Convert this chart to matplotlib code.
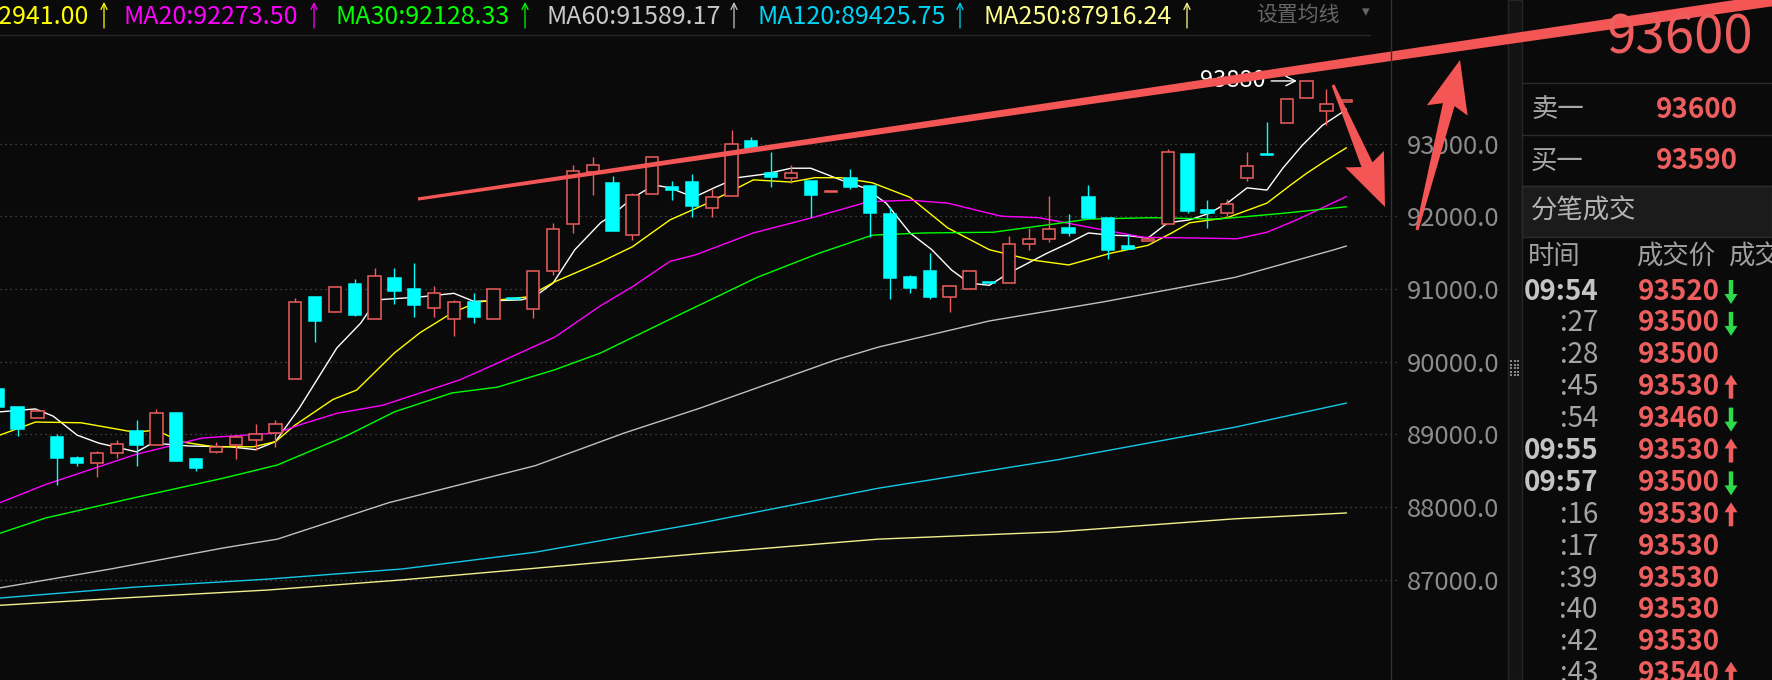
""" Candlestick chart with moving averages and a tick list panel, dark trading-app style. """

import numpy as np
import matplotlib
matplotlib.use("Agg")
import matplotlib.pyplot as plt
from matplotlib.patches import Rectangle, Polygon, FancyArrow

plt.rcParams['font.family'] = ['Noto Sans CJK SC', 'DejaVu Sans']

# Candles (index 0 is the leftmost, partly cut one)
opens = [89620, 89380, 89230, 88960, 88680, 88610, 88740, 89050, 88850, 89290,
         88660, 88760, 88850, 88930, 89020, 89760, 90890, 90680, 91070, 90590,
         91150, 91000, 90740, 90590, 90820, 90590, 90870, 90720, 91250, 91890,
         92610, 92460, 91740, 92310, 92400, 92470, 92110, 92280, 93030, 92590,
         92530, 92480, 92340, 92530, 92420, 92030, 91160, 91250, 90890, 91000,
         91090, 91080, 91620, 91690, 91840, 92260, 91980, 91590, 91660, 91890,
         92860, 92090, 92040, 92530, 92850, 93280, 93630, 93450, 93570]
highs = [89620, 89380, 89350, 89010, 88700, 88770, 88920, 89200, 89350, 89290,
         88680, 88900, 88990, 89150, 89200, 90880, 90890, 91030, 91140, 91290,
         91290, 91360, 91040, 90850, 90940, 91000, 90870, 91250, 91910, 92700,
         92810, 92550, 92320, 92810, 92480, 92580, 92370, 93190, 93090, 92880,
         92700, 92480, 92350, 92650, 92420, 92130, 91190, 91490, 91040, 91250,
         91090, 91730, 91840, 92280, 92030, 92430, 91980, 91760, 91690, 92920,
         92860, 92220, 92240, 92880, 93300, 93610, 93860, 93750, 93600]
lows = [89380, 88980, 89230, 88300, 88570, 88410, 88680, 88570, 88850, 88630,
        88500, 88740, 88660, 88790, 88830, 89760, 90270, 90680, 90630, 90590,
        90790, 90610, 90610, 90350, 90530, 90590, 90860, 90600, 91190, 91770,
        92290, 91800, 91670, 92310, 92220, 91990, 91990, 92280, 92940, 92400,
        92460, 91990, 92340, 92370, 91710, 90860, 90940, 90860, 90680, 91000,
        91080, 91080, 91540, 91650, 91730, 91980, 91410, 91550, 91660, 91890,
        92040, 91840, 91980, 92480, 92840, 93280, 93630, 93250, 93570]
closes = [89380, 89070, 89320, 88680, 88610, 88740, 88870, 88850, 89290, 88630,
          88540, 88830, 88960, 89010, 89140, 90820, 90560, 91030, 90640, 91180,
          90970, 90780, 90940, 90820, 90610, 91000, 90860, 91250, 91820, 92620,
          92700, 91800, 92290, 92810, 92360, 92140, 92260, 92990, 92940, 92540,
          92590, 92290, 92350, 92400, 92040, 91150, 91010, 90890, 91040, 91250,
          91080, 91620, 91690, 91820, 91770, 91980, 91540, 91550, 91690, 92880,
          92070, 92040, 92170, 92690, 92840, 93610, 93860, 93540, 93600]

# Moving averages as (candle index, value)
ma5_x = [0.1, 1.9, 2.8, 4.0, 5.1, 7.0, 7.8, 9.7, 11.7, 13.0, 14.0, 15.2, 17.1, 18.3,
         19.1, 21.3, 23.0, 24.0, 26.4, 27.1, 28.0, 29.1, 30.4, 31.0, 32.0, 33.1,
         33.9, 35.1, 36.2, 37.3, 38.7, 40.0, 41.0, 42.5, 43.7, 44.8, 46.0, 47.1,
         48.1, 49.0, 50.0, 51.0, 52.9, 54.0, 55.0, 56.1, 57.1, 58.0, 59.0, 60.1,
         61.1, 62.1, 63.0, 64.0, 64.8, 65.8, 66.8, 67.8, 68.0]
ma5_y = [89310, 89350, 89250, 88990, 88880, 88760, 88880, 88840, 88830, 88790,
         88900, 89360, 90190, 90530, 90850, 90890, 90940, 90830, 90850, 90900,
         91080, 91540, 91910, 92020, 92250, 92430, 92390, 92260, 92400, 92530,
         92580, 92660, 92660, 92500, 92390, 92180, 91770, 91540, 91260, 91080,
         91050, 91220, 91490, 91630, 91770, 91740, 91730, 91700, 91910, 91950,
         92040, 92200, 92390, 92360, 92660, 92980, 93250, 93430, 93470]

ma10_x = [0.1, 1.9, 4.2, 6.9, 8.0, 9.2, 10.9, 12.9, 14.0, 15.0, 16.9, 18.1, 20.0,
          21.3, 22.9, 24.2, 26.7, 28.1, 30.4, 32.0, 33.9, 35.8, 38.1, 40.0, 41.2,
          42.5, 44.1, 46.0, 47.9, 50.0, 52.1, 54.0, 56.1, 58.0, 59.2, 60.1, 62.0,
          64.0, 65.2, 66.0, 67.0, 68.0]
ma10_y = [88990, 89170, 89160, 89030, 89060, 88900, 88830, 88830, 88900, 89130,
          89480, 89610, 90120, 90400, 90670, 90820, 90890, 91100, 91370, 91580,
          91950, 92180, 92500, 92470, 92530, 92530, 92460, 92260, 91840, 91540,
          91400, 91330, 91490, 91600, 91770, 91910, 91980, 92180, 92430, 92590,
          92770, 92940]

ma20_x = [0.1, 2.4, 6.9, 10.3, 14.1, 15.2, 17.1, 19.4, 21.3, 23.3, 25.2, 28.1, 30.4,
          32.0, 33.9, 35.2, 38.1, 41.2, 43.9, 46.0, 47.9, 50.6, 52.5, 55.0, 57.8,
          60.6, 62.5, 64.0, 65.5, 68.0]
ma20_y = [88060, 88310, 88720, 88950, 89020, 89130, 89290, 89400, 89570, 89750,
          89980, 90340, 90770, 91030, 91380, 91470, 91770, 91990, 92200, 92220,
          92180, 92000, 91980, 91850, 91710, 91700, 91690, 91780, 91950, 92270]

ma30_x = [0.1, 2.4, 6.9, 11.4, 14.1, 17.5, 20.0, 22.9, 25.2, 28.1, 30.4, 34.1, 38.3,
          41.4, 44.1, 46.7, 50.2, 52.9, 55.0, 58.2, 61.5, 64.8, 68.0]
ma30_y = [87640, 87850, 88130, 88400, 88580, 88970, 89310, 89570, 89650, 89890,
          90120, 90610, 91160, 91490, 91740, 91770, 91780, 91880, 91960, 91980,
          91960, 92040, 92130]

ma60_x = [0.1, 5.7, 11.4, 14.1, 19.7, 22.6, 27.1, 31.6, 35.4, 42.2, 44.4, 50.0, 55.7,
          62.4, 67.4, 68.0]
ma60_y = [86890, 87150, 87440, 87560, 88060, 88260, 88570, 89020, 89360, 90020,
          90200, 90560, 90820, 91160, 91540, 91590]

ma120_x = [0.1, 6.9, 13.6, 20.4, 27.1, 35.4, 44.4, 53.4, 62.4, 68.0]
ma120_y = [86750, 86900, 87010, 87150, 87380, 87780, 88260, 88650, 89100, 89430]

ma250_x = [0.1, 6.9, 13.6, 20.4, 27.1, 35.4, 44.4, 53.4, 62.4, 68.0]
ma250_y = [86650, 86760, 86860, 87000, 87160, 87360, 87560, 87660, 87840, 87920]

# Header legend
header_labels = ["MA10:92941.00", "MA20:92273.50", "MA30:92128.33", "MA60:91589.17",
                 "MA120:89425.75", "MA250:87916.24"]

# Price axis
price_ticks = [87000, 88000, 89000, 90000, 91000, 92000, 93000]

# Right panel: quote and tick list
last_price = "93600"
ask_price = "93600"
bid_price = "93590"
tick_times = ["09:54", ":27", ":28", ":45", ":54", "09:55", "09:57",
              ":16", ":17", ":39", ":40", ":42", ":43"]
tick_prices = ["93520", "93500", "93500", "93530", "93460", "93530", "93500",
               "93530", "93530", "93530", "93530", "93530", "93540"]
tick_dirs = [-1, -1, 0, 1, -1, 1, -1, 1, 0, 0, 0, 0, 1]

BG = '#0a0a0a'
RED = '#ee5e5e'
ARROW_RED = '#f45656'
CYAN = '#00ffff'
LINE = '#2c2c2c'
ma_colors = ['#ffffff', '#ffff00', '#ff00ff', '#00ff00', '#c0c0c0', '#14c8e6', '#f0f08c']
header_colors = ['#ffff00', '#ff00ff', '#00ff00', '#c8c8c8', '#00d4f4', '#ffff8c']


def brush_polygon(p0, p1, w0, w1):
    """ Tapered stroke between two pixel points. """
    p0 = np.array(p0, float)
    p1 = np.array(p1, float)
    u = (p1 - p0) / np.linalg.norm(p1 - p0)
    n = np.array([-u[1], u[0]])
    return [p0 + n * w0, p1 + n * w1, p1 - n * w1, p0 - n * w0]


def brush_arrow(tail, tip, head_len, head_half, w0, w1):
    """ Hand drawn style arrow: tapered shaft plus a wide head. """
    tail = np.array(tail, float)
    tip = np.array(tip, float)
    u = (tip - tail) / np.linalg.norm(tip - tail)
    n = np.array([-u[1], u[0]])
    base = tip - u * head_len
    notch = base + u * 6
    return [tail + n * w0, notch + n * w1, base + n * head_half, tip,
            base - n * head_half, notch - n * w1, tail - n * w0]


fig = plt.figure(figsize=(17.72, 6.80), dpi=100, facecolor=BG)

# Price chart area
ax = fig.add_axes([0, 0, 1391 / 1772, 644 / 680])
ax.set_facecolor(BG)
pitch = 19.83
x_left = 2.2 / pitch
ax.set_xlim(x_left, x_left + 1391 / pitch)
ax.set_ylim(93000 - 536.5 * 13.75, 93000 + 107.5 * 13.75)
for s in ax.spines.values():
    s.set_visible(False)
ax.set_xticks([])
ax.yaxis.tick_right()
ax.set_yticks(price_ticks)
ax.set_yticklabels([f"{p:.1f}" for p in price_ticks])
ax.tick_params(axis='y', length=0, pad=11.5, labelsize=18.5, labelcolor='#8c8c8c')

ax.hlines(price_ticks, x_left, x_left + 1397 / pitch, colors='#505050',
          linestyles=(0, (1, 3)), lw=0.9, clip_on=False, zorder=0)

# Moving averages
ma_series = [(ma5_x, ma5_y), (ma10_x, ma10_y), (ma20_x, ma20_y), (ma30_x, ma30_y),
             (ma60_x, ma60_y), (ma120_x, ma120_y), (ma250_x, ma250_y)]
for (mx, my), c in zip(ma_series, ma_colors):
    ax.plot(mx, my, color=c, lw=1.0, zorder=2)

# Candles
hw = 0.31
for i, (o, h, l, c) in enumerate(zip(opens, highs, lows, closes)):
    if c > o:
        ax.vlines(i, c, h, color=RED, lw=1, zorder=3)
        ax.vlines(i, l, o, color=RED, lw=1, zorder=3)
        ax.add_patch(Rectangle((i - hw, o), 2 * hw, c - o, facecolor=BG,
                               edgecolor=RED, lw=1.1, zorder=3))
    else:
        ax.vlines(i, l, h, color=CYAN, lw=1, zorder=3)
        ax.add_patch(Rectangle((i - hw, c), 2 * hw, o - c, facecolor=CYAN,
                               edgecolor=CYAN, lw=1.1, zorder=3))

# Highest price marker
top = int(np.argmax(highs))
ax.annotate(f"{max(highs) + 20}", xy=(top - 0.35, highs[top]), xytext=(-34, 0),
            textcoords='offset pixels', ha='right', va='center', color='white',
            fontsize=17, arrowprops=dict(arrowstyle='->', color='white', lw=1),
            zorder=4)

# Overlay in figure pixels for panels and drawn marks
ov = fig.add_axes([0, 0, 1, 1])
ov.set_xlim(0, 1772)
ov.set_ylim(680, 0)
ov.axis('off')

# Header legend
ov.plot([0, 1370], [35, 35], color='#262626', lw=1)
ov.text(89, 17, header_labels[0], color=header_colors[0], ha='right', va='center',
        fontsize=18)
label_x = [124, 336, 547, 758, 984]
for lab, c, x in zip(header_labels[1:], header_colors[1:], label_x):
    ov.text(x, 17, lab, color=c, ha='left', va='center', fontsize=18)
arrow_x = [104, 314, 525, 734, 960, 1187]
for x, c in zip(arrow_x, header_colors):
    ov.annotate("", xy=(x, 2), xytext=(x, 28),
                arrowprops=dict(arrowstyle='->', color=c, lw=0.9, mutation_scale=11,
                                shrinkA=0, shrinkB=0))
ov.text(1256, 15, "设置均线", color='#666666', ha='left', va='center', fontsize=15)
ov.text(1366, 12, "▾", color='#666666', ha='center', va='center', fontsize=11,
        family='DejaVu Sans')

# Separators between chart, price scale and side panel
ov.plot([1391, 1391], [0, 680], color='#303030', lw=1)
ov.add_patch(Rectangle((1508, 0), 14, 680, facecolor='#131313', edgecolor='#262626', lw=1))
gx, gy = np.meshgrid([1511.5, 1515, 1518.5], [361, 364.5, 368, 371.5, 375])
ov.scatter(gx.ravel(), gy.ravel(), s=1.2, marker='s', color='#8a8a8a', lw=0)

# Side panel
ov.text(1680, 38, last_price, color=RED, ha='center', va='center', fontsize=38)
for y in [83, 135, 186]:
    ov.plot([1522, 1772], [y, y], color=LINE, lw=1)
ov.add_patch(Rectangle((1522, 186), 250, 51, facecolor='#1b1b1b', edgecolor=LINE, lw=1))
ov.text(1531, 110, "卖一", color='#a8a8a8', ha='left', va='center', fontsize=19)
ov.text(1738, 110, ask_price, color=RED, ha='right', va='center', fontsize=20,
        fontweight='bold')
ov.text(1531, 161, "买一", color='#a8a8a8', ha='left', va='center', fontsize=19)
ov.text(1738, 161, bid_price, color=RED, ha='right', va='center', fontsize=20,
        fontweight='bold')
ov.text(1531, 211, "分笔成交", color='#b4b4b4', ha='left', va='center', fontsize=19)

ov.text(1528, 257, "时间", color='#a0a0a0', ha='left', va='center', fontsize=19)
ov.text(1636, 257, "成交价", color='#a0a0a0', ha='left', va='center', fontsize=19)
ov.text(1728, 257, "成交量", color='#a0a0a0', ha='left', va='center', fontsize=19,
        clip_on=True)

row_y = 291.5 + 31.9 * np.arange(len(tick_times))
for y, t, p, d in zip(row_y, tick_times, tick_prices, tick_dirs):
    full = not t.startswith(":")
    ov.text(1598, y, t, ha='right', va='center', fontsize=20,
            color='#c4c4c4' if full else '#a4a4a4',
            fontweight='bold' if full else 'normal')
    ov.text(1720, y, p, ha='right', va='center', fontsize=20, color=RED,
            fontweight='bold')
    if d != 0:
        # d > 0 points up on screen, d < 0 points down (y axis is flipped here)
        col = '#2ed94a' if d < 0 else RED
        ov.add_patch(FancyArrow(1731, y + 11.5 * d, 0, -24 * d, width=4.5,
                                head_width=13, head_length=10,
                                length_includes_head=True, color=col, lw=0))

# Hand drawn red marks on top of the chart
ov.add_patch(Polygon(brush_polygon((418, 199), (1795, -3), 1.6, 6.0),
                     closed=True, color=ARROW_RED, lw=0))
ov.add_patch(Polygon(brush_arrow((1333, 85), (1385, 207), 52, 21, 1.5, 6),
                     closed=True, color=ARROW_RED, lw=0))
ov.add_patch(Polygon(brush_arrow((1417, 230), (1460, 60), 52, 21, 1.5, 6),
                     closed=True, color=ARROW_RED, lw=0))

plt.savefig("out.png", dpi=100, facecolor=BG)
